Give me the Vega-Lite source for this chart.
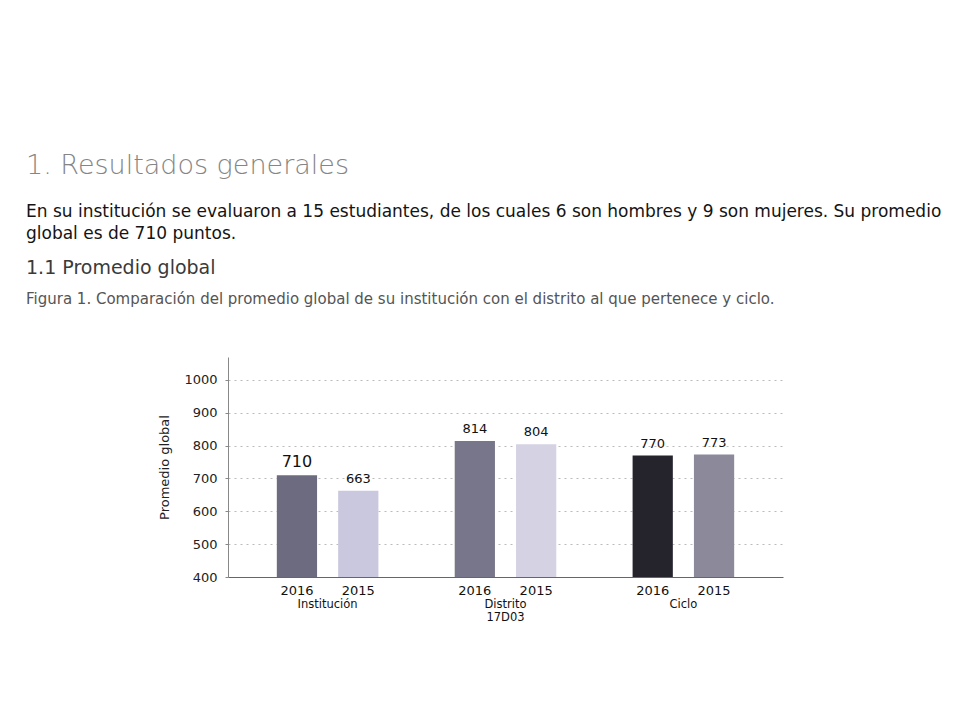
{
  "$schema": "https://vega.github.io/schema/vega-lite/v6.json",
  "autosize": {"type": "pad"},
  "padding": {"left": 26, "top": 152, "right": 5, "bottom": 5},
  "background": "white",
  "title": {
    "text": "1. Resultados generales",
    "subtitle": [
      "En su institución se evaluaron a 15 estudiantes, de los cuales 6 son hombres y 9 son mujeres. Su promedio",
      "global es de 710 puntos."
    ],
    "anchor": "start",
    "frame": "group",
    "dx": -202,
    "offset": 16,
    "font": "DejaVu Sans",
    "fontSize": 27,
    "fontWeight": 300,
    "color": "#858585",
    "subtitleFont": "DejaVu Sans",
    "subtitleFontSize": 17,
    "subtitleColor": "#141414",
    "subtitleLineHeight": 22,
    "subtitlePadding": 24
  },
  "data": {
    "values": [
      {"grupo": "Institución", "anio": "2016", "serie": "Institución 2016", "valor": 710},
      {"grupo": "Institución", "anio": "2015", "serie": "Institución 2015", "valor": 663},
      {"grupo": "Distrito\n17D03", "anio": "2016", "serie": "Distrito 2016", "valor": 814},
      {"grupo": "Distrito\n17D03", "anio": "2015", "serie": "Distrito 2015", "valor": 804},
      {"grupo": "Ciclo", "anio": "2016", "serie": "Ciclo 2016", "valor": 770},
      {"grupo": "Ciclo", "anio": "2015", "serie": "Ciclo 2015", "valor": 773}
    ]
  },
  "vconcat": [
    {
      "width": 555,
      "height": 220,
      "title": {
        "text": "1.1 Promedio global",
        "subtitle": "Figura 1. Comparación del promedio global de su institución con el distrito al que pertenece y ciclo.",
        "anchor": "start",
        "frame": "group",
        "dx": -202,
        "offset": 50,
        "font": "DejaVu Sans",
        "fontSize": 19,
        "fontWeight": "normal",
        "color": "#3a3a3a",
        "subtitleFont": "DejaVu Sans",
        "subtitleFontSize": 15,
        "subtitleColor": "#555555",
        "subtitlePadding": 14
      },
      "encoding": {
        "x": {
          "field": "grupo",
          "type": "nominal",
          "sort": ["Institución", "Distrito\n17D03", "Ciclo"],
          "scale": {"paddingInner": 0, "paddingOuter": 0.06},
          "axis": {"labels": false, "ticks": false, "title": null, "domainColor": "#666", "domainWidth": 1.2}
        }
      },
      "layer": [
        {
          "mark": {"type": "bar"},
          "encoding": {
            "xOffset": {"field": "anio", "type": "nominal", "sort": ["2016", "2015"], "scale": {"paddingInner": 0.344, "paddingOuter": 0.622}},
            "y": {
              "field": "valor",
              "type": "quantitative",
              "scale": {"domain": [400, 1070], "nice": false, "zero": false},
              "axis": {
                "values": [400, 500, 600, 700, 800, 900, 1000],
                "format": "d",
                "labelOverlap": false,
                "title": "Promedio global",
                "titleFont": "DejaVu Sans",
                "titleFontSize": 13,
                "titleFontWeight": "normal",
                "titleColor": "#222",
                "titlePadding": 12,
                "labelFont": "DejaVu Sans",
                "labelFontSize": 13,
                "labelColor": "#222",
                "labelPadding": 8,
                "tickSize": 3,
                "tickColor": "#888",
                "domainColor": "#888",
                "grid": true,
                "gridDash": [2, 4],
                "gridColor": "#bbb"
              }
            },
            "y2": {"datum": 400},
            "color": {
              "field": "serie",
              "type": "nominal",
              "legend": null,
              "scale": {
                "domain": ["Institución 2016", "Institución 2015", "Distrito 2016", "Distrito 2015", "Ciclo 2016", "Ciclo 2015"],
                "range": ["#6d6b80", "#cac8de", "#78768a", "#d4d2e3", "#25242d", "#8b899a"]
              }
            }
          }
        },
        {
          "mark": {"type": "text", "baseline": "bottom", "dy": -5, "font": "DejaVu Sans", "color": "#111"},
          "encoding": {
            "xOffset": {"field": "anio", "type": "nominal", "sort": ["2016", "2015"]},
            "y": {
              "field": "valor",
              "type": "quantitative",
              "axis": {
                "values": [400, 500, 600, 700, 800, 900, 1000],
                "format": "d",
                "labelOverlap": false,
                "title": "Promedio global",
                "titleFont": "DejaVu Sans",
                "titleFontSize": 13,
                "titleFontWeight": "normal",
                "titleColor": "#222",
                "titlePadding": 12,
                "labelFont": "DejaVu Sans",
                "labelFontSize": 13,
                "labelColor": "#222",
                "labelPadding": 8,
                "tickSize": 3,
                "tickColor": "#888",
                "domainColor": "#888",
                "grid": true,
                "gridDash": [2, 4],
                "gridColor": "#bbb"
              }
            },
            "text": {"field": "valor", "type": "quantitative"},
            "size": {"condition": {"test": "datum.serie === 'Institución 2016'", "value": 16}, "value": 13}
          }
        },
        {
          "mark": {"type": "text", "baseline": "middle", "dy": 14, "font": "DejaVu Sans", "fontSize": 13, "color": "#111"},
          "encoding": {
            "xOffset": {"field": "anio", "type": "nominal", "sort": ["2016", "2015"]},
            "y": {
              "datum": 400,
              "type": "quantitative",
              "axis": {
                "values": [400, 500, 600, 700, 800, 900, 1000],
                "format": "d",
                "labelOverlap": false,
                "title": "Promedio global",
                "titleFont": "DejaVu Sans",
                "titleFontSize": 13,
                "titleFontWeight": "normal",
                "titleColor": "#222",
                "titlePadding": 12,
                "labelFont": "DejaVu Sans",
                "labelFontSize": 13,
                "labelColor": "#222",
                "labelPadding": 8,
                "tickSize": 3,
                "tickColor": "#888",
                "domainColor": "#888",
                "grid": true,
                "gridDash": [2, 4],
                "gridColor": "#bbb"
              }
            },
            "text": {"field": "anio", "type": "nominal"}
          }
        },
        {
          "transform": [{"filter": "datum.anio === '2016'"}],
          "mark": {"type": "text", "baseline": "top", "dy": 22, "font": "DejaVu Sans", "fontSize": 11.5, "color": "#111", "lineBreak": "\n", "lineHeight": 13},
          "encoding": {
            "y": {
              "datum": 400,
              "type": "quantitative",
              "axis": {
                "values": [400, 500, 600, 700, 800, 900, 1000],
                "format": "d",
                "labelOverlap": false,
                "title": "Promedio global",
                "titleFont": "DejaVu Sans",
                "titleFontSize": 13,
                "titleFontWeight": "normal",
                "titleColor": "#222",
                "titlePadding": 12,
                "labelFont": "DejaVu Sans",
                "labelFontSize": 13,
                "labelColor": "#222",
                "labelPadding": 8,
                "tickSize": 3,
                "tickColor": "#888",
                "domainColor": "#888",
                "grid": true,
                "gridDash": [2, 4],
                "gridColor": "#bbb"
              }
            },
            "text": {"field": "grupo", "type": "nominal"}
          }
        }
      ]
    }
  ],
  "config": {"view": {"stroke": null}}
}
